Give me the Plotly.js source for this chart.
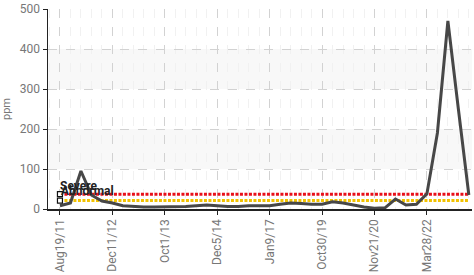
<!DOCTYPE html>
<html>
<head>
<meta charset="utf-8">
<script src="https://cdn.plot.ly/plotly-3.0.1.min.js"></script>
<style>html,body{margin:0;padding:0;background:#fff;}#chart{width:474px;height:275px;}</style>
</head>
<body>
<div id="chart"></div>
<script>
// sample index positions 0..39 (category axis), labels shown every 5th sample
const tickIndex = [0, 5, 10, 15, 20, 25, 30, 35];
const tickLabels = ["Aug19/11", "Dec11/12", "Oct1/13", "Dec5/14", "Jan9/17", "Oct30/19", "Nov21/20", "Mar28/22"];
const ppm = [8, 15, 95, 35, 20, 15, 8, 6, 5, 5,
             5, 5, 6, 8, 10, 8, 6, 6, 8, 8,
             8, 12, 15, 14, 12, 12, 18, 15, 10, 5,
             2, 3, 25, 10, 12, 38, 190, 470, 250, 35];
const severeLevel = 37;
const abnormalLevel = 21;
const yTicks = [0, 100, 200, 300, 400, 500];

const idx = ppm.map((_, i) => i);
const font = "Roboto, 'Liberation Sans', Arial, sans-serif";

const traces = [
  {x: idx, y: idx.map(() => severeLevel), mode: 'lines', line: {color: '#e8101a', width: 3, dash: '3px,1.5px'}, hoverinfo: 'skip'},
  {x: idx, y: idx.map(() => abnormalLevel), mode: 'lines', line: {color: '#f2c200', width: 3, dash: '3px,1.5px'}, hoverinfo: 'skip'},
  {x: idx, y: ppm, mode: 'lines', line: {color: '#474747', width: 3}},
  {x: [idx[0], idx[0]], y: [severeLevel, abnormalLevel], mode: 'markers',
   marker: {symbol: 'square', size: 5, color: '#fff', line: {color: '#111', width: 1.2}}}
];

const layout = {
  width: 474, height: 275,
  margin: {l: 48, r: 2, t: 9, b: 66},
  paper_bgcolor: '#fff', plot_bgcolor: '#fff',
  showlegend: false,
  font: {family: font, size: 12, color: '#777'},
  xaxis: {
    range: [-1.14, 39.3],
    tickmode: 'array', tickvals: tickIndex, ticktext: tickLabels,
    tickangle: -90, ticks: 'outside', ticklen: 4, tickcolor: '#222',
    showline: true, linecolor: '#222', linewidth: 1.5,
    showgrid: true, gridcolor: '#d2d2d2', griddash: 'dash', gridwidth: 1,
    minor: {dtick: 1, tick0: 0, showgrid: true, gridcolor: '#f1f1f1', griddash: 'dash', gridwidth: 1},
    zeroline: false,
    tickfont: {family: font, size: 12, color: '#777'}
  },
  yaxis: {
    range: [0, 500],
    tickmode: 'array', tickvals: yTicks,
    ticks: 'outside', ticklen: 4, tickcolor: '#222',
    showline: true, linecolor: '#222', linewidth: 1.5,
    showgrid: true, gridcolor: '#d2d2d2', griddash: 'dash', gridwidth: 1,
    zeroline: false,
    title: {text: 'ppm', font: {family: font, size: 11, color: '#777'}, standoff: 10},
    tickfont: {family: font, size: 12, color: '#777'}
  },
  shapes: [
    {type: 'rect', xref: 'paper', yref: 'y', x0: 0, x1: 1, y0: 100, y1: 200, fillcolor: '#f8f8f8', line: {width: 0}, layer: 'below'},
    {type: 'rect', xref: 'paper', yref: 'y', x0: 0, x1: 1, y0: 300, y1: 400, fillcolor: '#f8f8f8', line: {width: 0}, layer: 'below'}
  ],
  annotations: [
    {x: 0, y: 57, xref: 'x', yref: 'y', text: 'Severe', showarrow: false, xanchor: 'left', yanchor: 'middle', xshift: -2,
     font: {family: font, size: 12, color: '#222', weight: 'bold'}},
    {x: 0, y: 45, xref: 'x', yref: 'y', text: 'Abnormal', showarrow: false, xanchor: 'left', yanchor: 'middle', xshift: -1,
     font: {family: font, size: 12, color: '#222', weight: 'bold'}}
  ]
};

Plotly.newPlot('chart', traces, layout, {staticPlot: true, displayModeBar: false});
</script>
</body>
</html>
